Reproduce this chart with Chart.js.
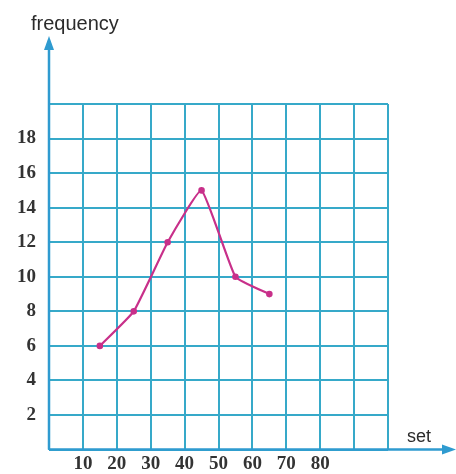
<!DOCTYPE html>
<html lang="en">
<head>
    <meta charset="UTF-8">
    <title>frequency polygon</title>
    <script src="https://cdn.jsdelivr.net/npm/chart.js"></script>
    <style>
        html, body { margin: 0; padding: 0; background: #fff; overflow: hidden; }
        canvas { display: block; }
    </style>
</head>
<body>
<canvas id="chart" width="456" height="474"></canvas>

<script>
    // class midpoints and frequencies
    const setValues = [15, 25, 35, 45, 55, 65];
    const frequencies = [6, 8, 12, 15, 10, 9];
    const xTickLabels = [10, 20, 30, 40, 50, 60, 70, 80];
    const yTickLabels = [2, 4, 6, 8, 10, 12, 14, 16, 18];

    const gridColor = '#36a9c9';
    const axisColor = '#2f9bd0';
    const lineColor = '#c8308a';

    // axis arrows and axis names
    const axisArrows = {
        id: 'axisArrows',
        afterDraw(chart) {
            const { ctx, scales: { x, y } } = chart;
            const x0 = x.left, y0 = y.bottom;
            ctx.save();
            ctx.strokeStyle = axisColor;
            ctx.fillStyle = axisColor;
            ctx.lineWidth = 2.5;

            ctx.beginPath();
            ctx.moveTo(x0, y0);
            ctx.lineTo(x0, 46);
            ctx.moveTo(x0, y0);
            ctx.lineTo(448, y0);
            ctx.stroke();

            ctx.beginPath();
            ctx.moveTo(x0, 36);
            ctx.lineTo(x0 - 5, 50);
            ctx.lineTo(x0 + 5, 50);
            ctx.closePath();
            ctx.fill();

            ctx.beginPath();
            ctx.moveTo(456, y0);
            ctx.lineTo(442, y0 - 5);
            ctx.lineTo(442, y0 + 5);
            ctx.closePath();
            ctx.fill();

            ctx.fillStyle = '#2b2b2b';
            ctx.textBaseline = 'middle';
            ctx.textAlign = 'left';
            ctx.font = '20px "Liberation Sans"';
            ctx.fillText('frequency', 31, 24);
            ctx.font = '18px "Liberation Sans"';
            ctx.fillText('set', 407, 437);
            ctx.restore();
        }
    };

    new Chart(document.getElementById('chart'), {
        type: 'scatter',
        data: {
            datasets: [{
                data: setValues.map((v, i) => ({ x: v, y: frequencies[i] })),
                showLine: true,
                borderColor: lineColor,
                backgroundColor: lineColor,
                borderWidth: 2.2,
                pointRadius: 2.2,
                tension: 0.12
            }]
        },
        options: {
            responsive: false,
            animation: false,
            devicePixelRatio: 1,
            layout: { padding: { top: 104, right: 68, left: 0, bottom: 0 } },
            plugins: { legend: { display: false }, tooltip: { enabled: false } },
            scales: {
                x: {
                    type: 'linear',
                    min: 0, max: 100,
                    afterFit: s => { s.height = 22; },
                    afterBuildTicks: s => {
                        s.ticks = [0, 10, 20, 30, 40, 50, 60, 70, 80, 90, 100].map(v => ({ value: v }));
                    },
                    ticks: {
                        padding: 3,
                        color: '#333',
                        font: { family: 'Liberation Serif', size: 19, weight: 'bold' },
                        maxRotation: 0,
                        autoSkip: false,
                        callback: v => xTickLabels.includes(v) ? String(v) : ''
                    },
                    grid: { color: gridColor, lineWidth: 2, drawTicks: false },
                    border: { display: false }
                },
                y: {
                    type: 'linear',
                    min: 0, max: 20,
                    afterFit: s => { s.width = 49; },
                    afterBuildTicks: s => {
                        s.ticks = [0, 2, 4, 6, 8, 10, 12, 14, 16, 18, 20].map(v => ({ value: v }));
                    },
                    ticks: {
                        padding: 13,
                        color: '#333',
                        font: { family: 'Liberation Serif', size: 19, weight: 'bold' },
                        autoSkip: false,
                        callback: v => yTickLabels.includes(v) ? String(v) : ''
                    },
                    grid: { color: gridColor, lineWidth: 2, drawTicks: false },
                    border: { display: false }
                }
            }
        },
        plugins: [axisArrows]
    });
</script>
</body>
</html>
